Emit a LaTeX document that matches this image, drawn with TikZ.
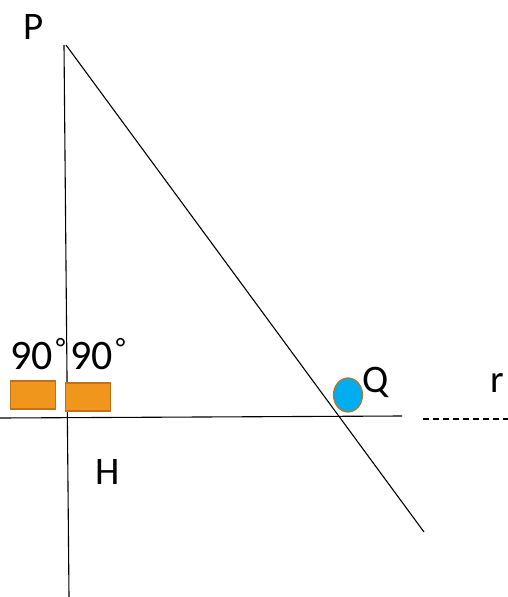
\documentclass[tikz,border=0pt]{standalone}
\usepackage{fontspec}
\setmainfont{Carlito}
\usetikzlibrary{shapes.geometric}
\definecolor{boxfill}{HTML}{F0961C}
\definecolor{boxline}{HTML}{BF7219}
\definecolor{qfill}{HTML}{00AEEF}
\definecolor{qline}{HTML}{B8731F}
\tikzset{
  lbl/.style={inner sep=0pt, font=\fontsize{39}{39}\selectfont},
  deg/.style={inner sep=0pt, font=\fontsize{42}{42}\selectfont},
  mark90/.style={draw=boxline, fill=boxfill, line width=1.2pt},
  thin/.style={line width=1.1pt}
}
\newcommand{\degmark}{\hspace{3pt}\raisebox{12pt}{\fontsize{28}{28}\selectfont°}}
\begin{document}
\begin{tikzpicture}[x=1pt,y=-1pt]
\useasboundingbox (0,0) rectangle (508,597);
% lines
\coordinate (Ptop) at (64,45);
\coordinate (Vbot) at (69,597);
\coordinate (Stop) at (66,45);
\coordinate (Send) at (424,532);
\coordinate (Hl) at (0,418);
\coordinate (Hr) at (402,416);
\coordinate (Dl) at (423,419);
\coordinate (Dr) at (508,419);
\draw[thin] (Ptop) -- (Vbot);
\draw[thin] (Stop) -- (Send);
\draw[thin] (Hl) -- (Hr);
\draw[thin, dash pattern=on 6pt off 4pt] (Dl) -- (Dr);
% marks
\node[mark90, minimum width=45pt, minimum height=28pt, inner sep=0pt] (b1) at (33,395) {};
\node[mark90, minimum width=45pt, minimum height=28pt, inner sep=0pt] (b2) at (88,397) {};
\node[mark90, draw=qline, fill=qfill, ellipse, minimum width=29pt, minimum height=34pt, inner sep=0pt] (q) at (348,395) {};
% labels
\node[lbl] (P) at (34,27) {P};
\node[lbl] (Q) at (376,382) {Q};
\node[lbl] (r) at (497,383) {r};
\node[lbl] (H) at (108,472) {H};
\node[deg, anchor=base west] (a1) at (10,369) {90\degmark};
\node[deg, anchor=base west] (a2) at (70,369) {90\degmark};
\end{tikzpicture}
\end{document}
